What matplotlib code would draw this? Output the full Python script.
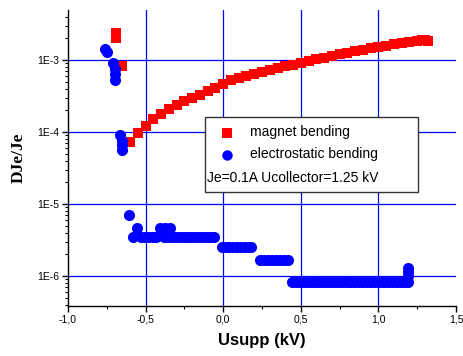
import math
import matplotlib
matplotlib.use("Agg")
import matplotlib.pyplot as plt
from matplotlib.ticker import FixedLocator, LogLocator, FuncFormatter, NullFormatter
from matplotlib.patches import Rectangle

# ---- data ----
magnet_x = [-0.69, -0.69, -0.65,
            -0.60, -0.55, -0.50, -0.45, -0.40, -0.35, -0.30, -0.25, -0.20, -0.15,
            -0.10, -0.05, 0.00, 0.05, 0.10, 0.15, 0.20, 0.25, 0.30, 0.35, 0.40,
            0.45, 0.50, 0.55, 0.60, 0.65, 0.70, 0.75, 0.80, 0.85, 0.90, 0.95,
            1.00, 1.05, 1.10, 1.15, 1.20, 1.25, 1.28, 1.30, 1.32]
magnet_y = [2.35e-3, 2.0e-3, 8.3e-4,
            7.3e-5, 9.6e-5, 1.2e-4, 1.5e-4, 1.8e-4, 2.1e-4, 2.4e-4, 2.7e-4, 3.0e-4, 3.3e-4,
            3.7e-4, 4.15e-4, 4.7e-4, 5.2e-4, 5.6e-4, 6.0e-4, 6.4e-4, 6.8e-4, 7.3e-4, 7.7e-4, 8.2e-4,
            8.6e-4, 9.1e-4, 9.7e-4, 1.02e-3, 1.08e-3, 1.14e-3, 1.2e-3, 1.26e-3, 1.32e-3, 1.38e-3, 1.45e-3,
            1.52e-3, 1.58e-3, 1.65e-3, 1.71e-3, 1.77e-3, 1.83e-3, 1.88e-3, 1.87e-3, 1.84e-3]

electro_x = [-0.76, -0.75, -0.71, -0.70, -0.695, -0.695,
             -0.665, -0.655, -0.655, -0.655,
             -0.61,
             -0.58, -0.555, -0.53, -0.505, -0.48, -0.455, -0.43, -0.41, -0.375, -0.34,
             -0.38, -0.355, -0.33, -0.305, -0.28, -0.255, -0.23, -0.205, -0.18,
             -0.155, -0.13, -0.105, -0.08, -0.06,
             -0.01, 0.015, 0.04, 0.065, 0.09, 0.115, 0.14, 0.165, 0.18,
             0.24, 0.265, 0.29, 0.315, 0.34, 0.365, 0.39, 0.42,
             0.445, 0.47, 0.495, 0.52, 0.545, 0.57, 0.595, 0.62, 0.645, 0.67, 0.695,
             0.72, 0.745, 0.77, 0.795, 0.82, 0.845, 0.87, 0.895, 0.92, 0.945, 0.97,
             0.995, 1.02, 1.045, 1.07, 1.095, 1.12, 1.145, 1.17, 1.19,
             1.19, 1.19, 1.19]
electro_y = [1.42e-3, 1.3e-3, 9.2e-4, 7.6e-4, 6.4e-4, 5.3e-4,
             9.1e-5, 7.5e-5, 6.5e-5, 5.7e-5,
             7.0e-6,
             3.5e-6, 4.6e-6, 3.5e-6, 3.5e-6, 3.5e-6, 3.5e-6, 3.5e-6, 4.6e-6, 4.6e-6, 4.6e-6,
             3.5e-6, 3.5e-6, 3.5e-6, 3.5e-6, 3.5e-6, 3.5e-6, 3.5e-6, 3.5e-6, 3.5e-6,
             3.5e-6, 3.5e-6, 3.5e-6, 3.5e-6, 3.5e-6,
             2.5e-6, 2.5e-6, 2.5e-6, 2.5e-6, 2.5e-6, 2.5e-6, 2.5e-6, 2.5e-6, 2.5e-6,
             1.65e-6, 1.65e-6, 1.65e-6, 1.65e-6, 1.65e-6, 1.65e-6, 1.65e-6, 1.65e-6,
             8.3e-7, 8.3e-7, 8.3e-7, 8.3e-7, 8.3e-7, 8.3e-7, 8.3e-7, 8.3e-7, 8.3e-7, 8.3e-7, 8.3e-7,
             8.3e-7, 8.3e-7, 8.3e-7, 8.3e-7, 8.3e-7, 8.3e-7, 8.3e-7, 8.3e-7, 8.3e-7, 8.3e-7, 8.3e-7,
             8.3e-7, 8.3e-7, 8.3e-7, 8.3e-7, 8.3e-7, 8.3e-7, 8.3e-7, 8.3e-7, 8.3e-7,
             1.0e-6, 1.15e-6, 1.3e-6]

x_ticks = [-1.0, -0.5, 0.0, 0.5, 1.0, 1.5]
y_ticks = [1e-6, 1e-5, 1e-4, 1e-3]
legend_labels = ["magnet bending", "electrostatic bending"]
legend_note = "Je=0.1A Ucollector=1.25 kV"

# ---- figure ----
W, H = 463, 356
fig = plt.figure(figsize=(W / 100, H / 100), dpi=100)
L, R, T, B = 68, 456, 10, 306
ax = fig.add_axes([L / W, 1 - B / H, (R - L) / W, (B - T) / H])

ax.set_yscale("log")
ax.set_xlim(-1.0, 1.5)
ax.set_ylim(3.83e-7, 4.95e-3)

ax.plot(magnet_x, magnet_y, linestyle="none", marker="s", markersize=7.4,
        color="#ff0000", markeredgewidth=0, zorder=3, clip_on=False)
ax.plot(electro_x, electro_y, linestyle="none", marker="o", markersize=8.0,
        color="#0000ff", markeredgewidth=0, zorder=3, clip_on=False)

# grid
for xv in x_ticks[1:-1]:
    ax.axvline(xv, color="#0000ff", lw=0.9, zorder=1)
for yv in y_ticks:
    ax.axhline(yv, color="#0000ff", lw=0.9, zorder=1)

# spines
for s in ["top", "right"]:
    ax.spines[s].set_visible(False)
for s in ["left", "bottom"]:
    ax.spines[s].set_linewidth(1.0)
    ax.spines[s].set_color("black")

ax.xaxis.set_major_locator(FixedLocator(x_ticks))
ax.xaxis.set_minor_locator(FixedLocator([-0.75, -0.25, 0.25, 0.75, 1.25]))
ax.xaxis.set_major_formatter(FuncFormatter(lambda v, p: f"{v:.1f}".replace(".", ",")))
ax.yaxis.set_major_locator(FixedLocator(y_ticks))
ax.yaxis.set_minor_locator(LogLocator(base=10, subs=range(2, 10)))
ax.yaxis.set_minor_formatter(NullFormatter())
ax.yaxis.set_major_formatter(FuncFormatter(lambda v, p: "1E%d" % round(math.log10(v))))

ax.tick_params(axis="both", which="major", direction="out", length=4, width=1,
               labelsize=7.5, colors="black", pad=2)
ax.tick_params(axis="both", which="minor", direction="out", length=2.5, width=0.8)
for lab in ax.get_xticklabels() + ax.get_yticklabels():
    lab.set_fontfamily("Liberation Sans")

ax.set_xlabel("Usupp (kV)", fontsize=12, fontweight="bold", family="Liberation Sans", labelpad=6)
ax.set_ylabel("DJe/Je", fontsize=12.5, fontweight="bold", family="Liberation Serif", labelpad=8)

# legend box (manual)
def fx(px):
    return (px - L) / (R - L)

def fy(py):
    return (B - py) / (B - T)

ax.add_patch(Rectangle((fx(205), fy(192)), fx(418) - fx(205), fy(117) - fy(192),
                       transform=ax.transAxes, facecolor="white", edgecolor="#333333",
                       lw=1.0, zorder=5, clip_on=False))
ax.plot([fx(227)], [fy(132.5)], transform=ax.transAxes, marker="s", markersize=6.5,
        color="#ff0000", mew=0, linestyle="none", zorder=6, clip_on=False)
ax.plot([fx(227)], [fy(154.5)], transform=ax.transAxes, marker="o", markersize=7.5,
        color="#0000ff", mew=0, linestyle="none", zorder=6, clip_on=False)
ax.text(fx(250), fy(132), legend_labels[0], transform=ax.transAxes, fontsize=10,
        family="Liberation Sans", va="center", ha="left", zorder=6)
ax.text(fx(250), fy(154), legend_labels[1], transform=ax.transAxes, fontsize=10,
        family="Liberation Sans", va="center", ha="left", zorder=6)
ax.text(fx(207), fy(178), legend_note, transform=ax.transAxes, fontsize=10,
        family="Liberation Sans", va="center", ha="left", zorder=6)

fig.savefig("out.png", dpi=100)
